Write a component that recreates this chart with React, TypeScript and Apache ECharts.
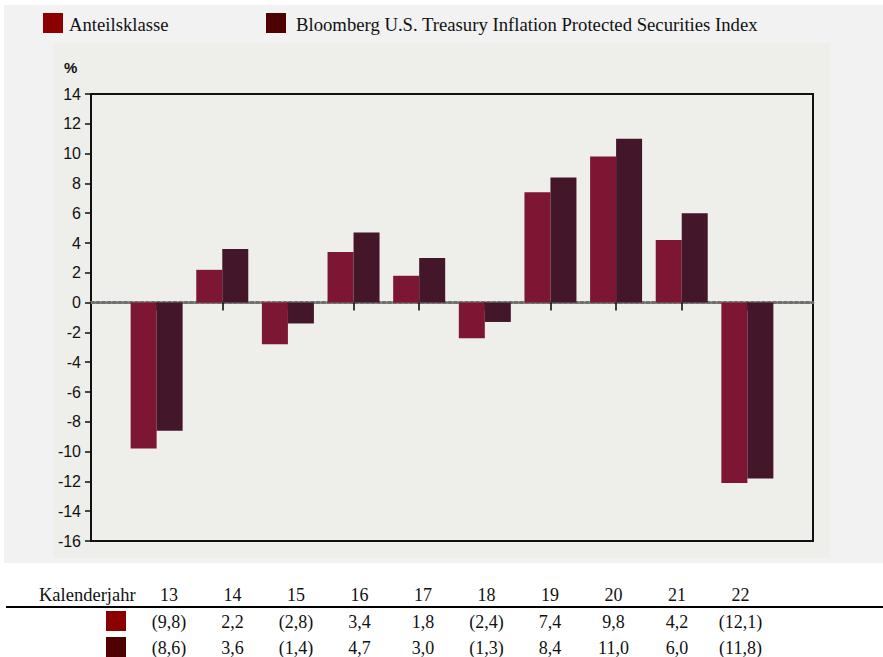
import React, { useEffect, useRef } from "react";
import * as echarts from "echarts";

const years = ["13", "14", "15", "16", "17", "18", "19", "20", "21", "22"];
const fundValues = [-9.8, 2.2, -2.8, 3.4, 1.8, -2.4, 7.4, 9.8, 4.2, -12.1];
const indexValues = [-8.6, 3.6, -1.4, 4.7, 3.0, -1.3, 8.4, 11.0, 6.0, -11.8];
const seriesNames = ["Anteilsklasse", "Bloomberg U.S. Treasury Inflation Protected Securities Index"];
const barColors = ["#7d1632", "#431629"];
const keyColors = ["#8b0000", "#4f0000"];
const yTicks = { min: -16, max: 14, interval: 2 };
const tableHeader = "Kalenderjahr";

const fmt = (v: number) => {
  const s = Math.abs(v).toFixed(1).replace(".", ",");
  return v < 0 ? `(${s})` : s;
};

export default function App() {
  const ref = useRef<HTMLDivElement>(null);
  useEffect(() => {
    if (!ref.current) return;
    const chart = echarts.init(ref.current, undefined, { renderer: "svg" });
    const cats = ["", ...years, ""];
    const pad = (arr: number[]) => [null, ...arr, null];
    const serif = "Liberation Serif";
    const sans = "Liberation Sans";

    const graphics: any[] = [
      { type: "rect", z: -100, shape: { x: 4, y: 5, width: 879, height: 558 }, style: { fill: "#f2f2f2" } },
      { type: "rect", z: -99, shape: { x: 53, y: 43, width: 777, height: 515 }, style: { fill: "#eeeeea" } },
      { type: "text", x: 64, y: 67, style: { text: "%", font: `bold 15px ${sans}`, fill: "#111", verticalAlign: "middle" } },
      // legend
      { type: "rect", shape: { x: 43, y: 13, width: 20, height: 20 }, style: { fill: keyColors[0] } },
      { type: "text", x: 69, y: 24, style: { text: seriesNames[0], font: `18.7px ${serif}`, fill: "#111", verticalAlign: "middle" } },
      { type: "rect", shape: { x: 266, y: 13, width: 20, height: 20 }, style: { fill: keyColors[1] } },
      { type: "text", x: 296, y: 24, style: { text: seriesNames[1], font: `18.7px ${serif}`, fill: "#111", verticalAlign: "middle" } },
      // table
      { type: "text", x: 39, y: 595, style: { text: tableHeader, font: `18.5px ${serif}`, fill: "#111", verticalAlign: "middle" } },
      { type: "line", shape: { x1: 6, y1: 607, x2: 883, y2: 607 }, style: { stroke: "#000", lineWidth: 2 } },
      { type: "rect", shape: { x: 106, y: 611, width: 20, height: 20 }, style: { fill: keyColors[0] } },
      { type: "rect", shape: { x: 106, y: 637, width: 20, height: 20 }, style: { fill: keyColors[1] } },
    ];
    years.forEach((y, i) => {
      const cx = 169 + i * 63.5;
      graphics.push({ type: "text", x: cx, y: 595, style: { text: y, font: `18px ${serif}`, fill: "#111", align: "center", verticalAlign: "middle" } });
      graphics.push({ type: "text", x: cx, y: 622, style: { text: fmt(fundValues[i]), font: `18px ${serif}`, fill: "#111", align: "center", verticalAlign: "middle" } });
      graphics.push({ type: "text", x: cx, y: 648, style: { text: fmt(indexValues[i]), font: `18px ${serif}`, fill: "#111", align: "center", verticalAlign: "middle" } });
    });

    chart.setOption({
      animation: false,
      backgroundColor: "#ffffff",
      grid: { left: 91, right: 70, top: 94, bottom: 116, show: true, borderColor: "#111", borderWidth: 2, backgroundColor: "transparent" },
      xAxis: {
        type: "category",
        data: cats,
        boundaryGap: false,
        axisLine: { onZero: true, lineStyle: { color: "#707070", width: 3, type: [3, 2.5] } },
        axisTick: { show: true, length: 8, lineStyle: { color: "#000", width: 1.5 }, interval: (i: number, v: string) => v !== "" },
        axisLabel: { show: false },
        splitLine: { show: false },
      },
      yAxis: {
        type: "value",
        min: yTicks.min,
        max: yTicks.max,
        interval: yTicks.interval,
        axisLine: { show: true, lineStyle: { color: "#111", width: 2 } },
        axisTick: { show: true, length: 6, lineStyle: { color: "#111", width: 1.5 } },
        axisLabel: { fontFamily: sans, fontSize: 16, color: "#111", margin: 10 },
        splitLine: { show: false },
      },
      series: [
        { name: seriesNames[0], type: "bar", data: pad(fundValues), barWidth: 26, barGap: "0%", itemStyle: { color: barColors[0] } },
        { name: seriesNames[1], type: "bar", data: pad(indexValues), barWidth: 26, barGap: "0%", itemStyle: { color: barColors[1] } },
      ],
      graphic: { elements: graphics },
    });
    return () => chart.dispose();
  }, []);
  return <div ref={ref} style={{ position: "fixed", left: 0, top: 0, width: 883, height: 657 }} />;
}
